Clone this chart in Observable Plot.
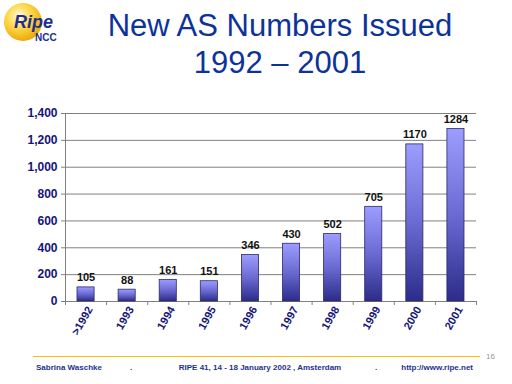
<!DOCTYPE html>
<html>
<head>
<meta charset="utf-8">
<script src="https://cdn.jsdelivr.net/npm/d3@7"></script>
<script src="https://cdn.jsdelivr.net/npm/@observablehq/plot@0.6"></script>
<style>
  html, body { margin: 0; padding: 0; background: #fff; }
  #page { position: relative; width: 512px; height: 384px; overflow: hidden; font-family: Arial, "Liberation Sans", sans-serif; }
  #chart { position: absolute; left: 0; top: 100px; }
  #deco { position: absolute; left: 0; top: 0; }
</style>
</head>
<body>
<div id="page">
  <svg id="deco" width="512" height="384" xmlns="http://www.w3.org/2000/svg">
    <defs>
      <radialGradient id="ball" cx="0.4" cy="0.35" r="0.7">
        <stop offset="0" stop-color="#fffbe0"/>
        <stop offset="0.45" stop-color="#ffd84a"/>
        <stop offset="1" stop-color="#e8a400"/>
      </radialGradient>
    </defs>
    <circle cx="23" cy="22" r="19" fill="url(#ball)"/>
    <text x="14" y="28" font-family="Arial, 'Liberation Sans', sans-serif" font-size="18" font-weight="bold" font-style="italic" fill="#1c2f8f">Ripe</text>
    <text x="35" y="41" font-family="Arial, 'Liberation Sans', sans-serif" font-size="10" font-weight="bold" fill="#1c2f8f">NCC</text>
    <text x="280" y="36" text-anchor="middle" font-family="Arial, 'Liberation Sans', sans-serif" font-size="31" fill="#0d3399">New AS Numbers Issued</text>
    <text x="280" y="73" text-anchor="middle" font-family="Arial, 'Liberation Sans', sans-serif" font-size="31" fill="#0d3399">1992 – 2001</text>
    <line x1="33" x2="480" y1="356.5" y2="356.5" stroke="#f2c300" stroke-width="1"/>
    <text x="486" y="359" font-family="Arial, 'Liberation Sans', sans-serif" font-size="8" fill="#999">16</text>
    <g font-family="Arial, 'Liberation Sans', sans-serif" font-size="8" font-weight="bold" fill="#1f2f8f">
      <text x="36" y="370">Sabrina Waschke</text>
      <text x="130" y="370">.</text>
      <text x="260" y="370" text-anchor="middle">RIPE 41, 14 - 18 January 2002 , Amsterdam</text>
      <text x="375" y="370">.</text>
      <text x="473" y="370" text-anchor="end">http://www.ripe.net</text>
    </g>
  </svg>
  <div id="chart"></div>
</div>
<script>
const years = [">1992", "1993", "1994", "1995", "1996", "1997", "1998", "1999", "2000", "2001"];
const counts = [105, 88, 161, 151, 346, 430, 502, 705, 1170, 1284];
const yTicks = [0, 200, 400, 600, 800, 1000, 1200, 1400];

const data = years.map((year, i) => ({year, idx: i, count: counts[i]}));
const font = "Arial, 'Liberation Sans', sans-serif";

const plot = Plot.plot({
  width: 512,
  height: 250,
  marginLeft: 65,
  marginRight: 36,
  marginTop: 13,
  marginBottom: 49,
  style: {fontFamily: font, background: "transparent", overflow: "visible"},
  x: {domain: [0, years.length], axis: null},
  y: {domain: [0, 1400], axis: null},
  marks: [
    Plot.ruleY(yTicks, {stroke: "#808080", strokeWidth: 1, insetLeft: -4}),
    Plot.ruleX([0], {stroke: "#808080", strokeWidth: 1}),
    Plot.axisY({ticks: yTicks, tickSize: 0, tickPadding: 8, tickFormat: d3.format(","), label: null,
      fontSize: 12, fontWeight: "bold", fill: "#14147a"}),
    Plot.axisX({ticks: d3.range(years.length + 1), tickSize: 4, tickFormat: () => "", label: null,
      stroke: "#808080"}),
    Plot.axisX({ticks: d3.range(years.length).map(i => i + 0.5), tickSize: 0, tickPadding: 6,
      tickFormat: d => years[Math.floor(d)], tickRotate: -60, dx: 4, label: null,
      fontSize: 11, fontWeight: "bold", fill: "#14147a"}),
    Plot.rectY(data, {x1: "idx", x2: d => d.idx + 1, y: "count", insetLeft: 12, insetRight: 12,
      fill: "url(#barGrad)", stroke: "#2a2a66", strokeWidth: 0.8}),
    Plot.text(data, {x: d => d.idx + 0.5, y: "count", text: d => String(d.count),
      dy: -6, lineAnchor: "bottom", fontSize: 11, fontWeight: "bold", fill: "#111"})
  ]
});

const defs = d3.select(plot).insert("defs", ":first-child");
const grad = defs.append("linearGradient").attr("id", "barGrad")
  .attr("x1", 0).attr("y1", 0).attr("x2", 0).attr("y2", 1);
grad.append("stop").attr("offset", 0).attr("stop-color", "#9d9dff");
grad.append("stop").attr("offset", 0.5).attr("stop-color", "#6a6ad2");
grad.append("stop").attr("offset", 1).attr("stop-color", "#2c2c8a");

document.getElementById("chart").appendChild(plot);
</script>
</body>
</html>
